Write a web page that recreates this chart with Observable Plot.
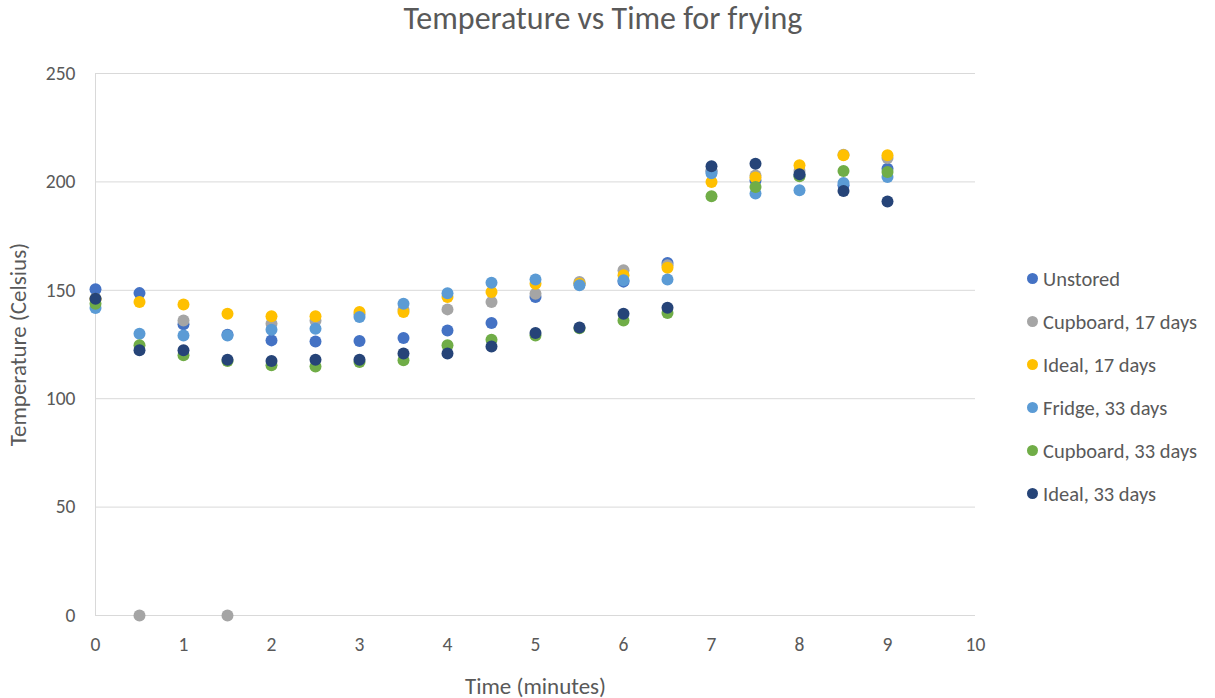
<!DOCTYPE html>
<html>
<head>
<meta charset="utf-8">
<script src="https://cdn.jsdelivr.net/npm/d3@7"></script>
<script src="https://cdn.jsdelivr.net/npm/@observablehq/plot@0.6"></script>
<style>
  body { margin: 0; background: #fff; }
  #wrap { position: relative; width: 1215px; height: 698px; font-family: Carlito, Lato, "Open Sans", sans-serif; color: #595959; }
  #title { position: absolute; left: 0; width: 1206px; top: -1px; text-align: center; font-size: 32px; }
  #legend { position: absolute; left: 1027px; top: 257px; font-size: 20.5px; }
  #legend .item { height: 43px; display: flex; align-items: center; }
  #legend .sw { width: 11px; height: 11px; border-radius: 50%; margin-right: 5px; }
  svg text { fill: #595959; }
</style>
</head>
<body>
<div id="wrap">
  <div id="title">Temperature vs Time for frying</div>
  <div id="legend"></div>
</div>
<script>
// Sample times (minutes)
const times = [0, 0.5, 1, 1.5, 2, 2.5, 3, 3.5, 4, 4.5, 5, 5.5, 6, 6.5, 7, 7.5, 8, 8.5, 9];

// Oil temperature (°C) for each storage condition
const unstored    = [150.5, 148.7, 134.3, 129.5, 126.9, 126.4, 126.6, 128.0, 131.5, 134.9, 146.9, 153.0, 154.0, 162.6, 205.0, 200.7, 203.0, 198.4, 206.1];
const cupboard17  = [146.0, 0,     136.1, 0,     134.6, 136.0, 139.0, 141.0, 141.2, 144.6, 148.4, 153.8, 159.2, 161.5, 205.0, 203.0, 205.0, 212.5, 211.0];
const ideal17     = [146.0, 144.6, 143.5, 139.2, 138.0, 138.0, 140.0, 140.0, 146.9, 149.2, 153.0, 153.0, 156.9, 160.4, 200.0, 202.0, 207.7, 212.3, 212.3];
const fridge33    = [141.8, 130.0, 129.2, 129.2, 131.8, 132.3, 137.7, 143.8, 148.6, 153.5, 155.0, 152.3, 154.6, 155.0, 204.0, 194.6, 196.1, 199.5, 202.3];
const cupboard33  = [143.8, 124.6, 120.0, 117.4, 115.4, 114.9, 116.9, 117.7, 124.6, 127.2, 129.2, 132.5, 136.1, 139.5, 193.4, 197.6, 202.6, 205.0, 204.6];
const ideal33     = [146.1, 122.3, 122.3, 118.0, 117.4, 118.0, 118.0, 120.8, 120.8, 124.1, 130.3, 132.8, 139.2, 142.0, 207.2, 208.4, 203.5, 195.8, 191.0];

const seriesNames = ["Unstored", "Cupboard, 17 days", "Ideal, 17 days", "Fridge, 33 days", "Cupboard, 33 days", "Ideal, 33 days"];
const seriesValues = [unstored, cupboard17, ideal17, fridge33, cupboard33, ideal33];
const seriesColors = ["#4472C4", "#A5A5A5", "#FFC000", "#5B9BD5", "#70AD47", "#264478"];

const xTicks = [0, 1, 2, 3, 4, 5, 6, 7, 8, 9, 10];
const yTicks = [0, 50, 100, 150, 200, 250];

const rows = seriesNames.flatMap((name, i) =>
  times.map((t, j) => ({series: name, time: t, temp: seriesValues[i][j]}))
);

const chart = Plot.plot({
  width: 1215,
  height: 698,
  marginTop: 73,
  marginBottom: 83,
  marginLeft: 95,
  marginRight: 240,
  style: {fontFamily: "Carlito, Lato, 'Open Sans', sans-serif", fontSize: "19px", color: "#595959", background: "transparent"},
  x: {domain: [0, 10], ticks: xTicks, label: null},
  y: {domain: [0, 250], ticks: yTicks, label: null},
  color: {domain: seriesNames, range: seriesColors},
  marks: [
    Plot.gridY(yTicks, {stroke: "#d9d9d9", strokeOpacity: 1, strokeWidth: 1}),
    Plot.ruleX([0], {stroke: "#d9d9d9", strokeWidth: 1}),
    Plot.ruleY([0], {stroke: "#d9d9d9", strokeWidth: 1}),
    Plot.axisX(xTicks, {tickSize: 0, tickPadding: 22, fontSize: 19.5}),
    Plot.axisY(yTicks, {tickSize: 0, tickPadding: 20, fontSize: 19.5}),
    Plot.axisX({ticks: [], label: "Time (minutes)", labelAnchor: "center", labelArrow: "none", labelOffset: 78, fontSize: 23}),
    Plot.axisY({ticks: [], label: "Temperature (Celsius)", labelAnchor: "center", labelArrow: "none", labelOffset: 86, fontSize: 23}),
    Plot.dot(rows, {x: "time", y: "temp", fill: "series", r: 6, stroke: "none"})
  ]
});
document.getElementById("wrap").prepend(chart);
chart.style.position = "absolute";
chart.style.left = "0";
chart.style.top = "0";

// Legend on the right
const legend = d3.select("#legend");
seriesNames.forEach((name, i) => {
  const item = legend.append("div").attr("class", "item");
  item.append("div").attr("class", "sw").style("background", seriesColors[i]);
  item.append("span").text(name);
});
</script>
</body>
</html>
